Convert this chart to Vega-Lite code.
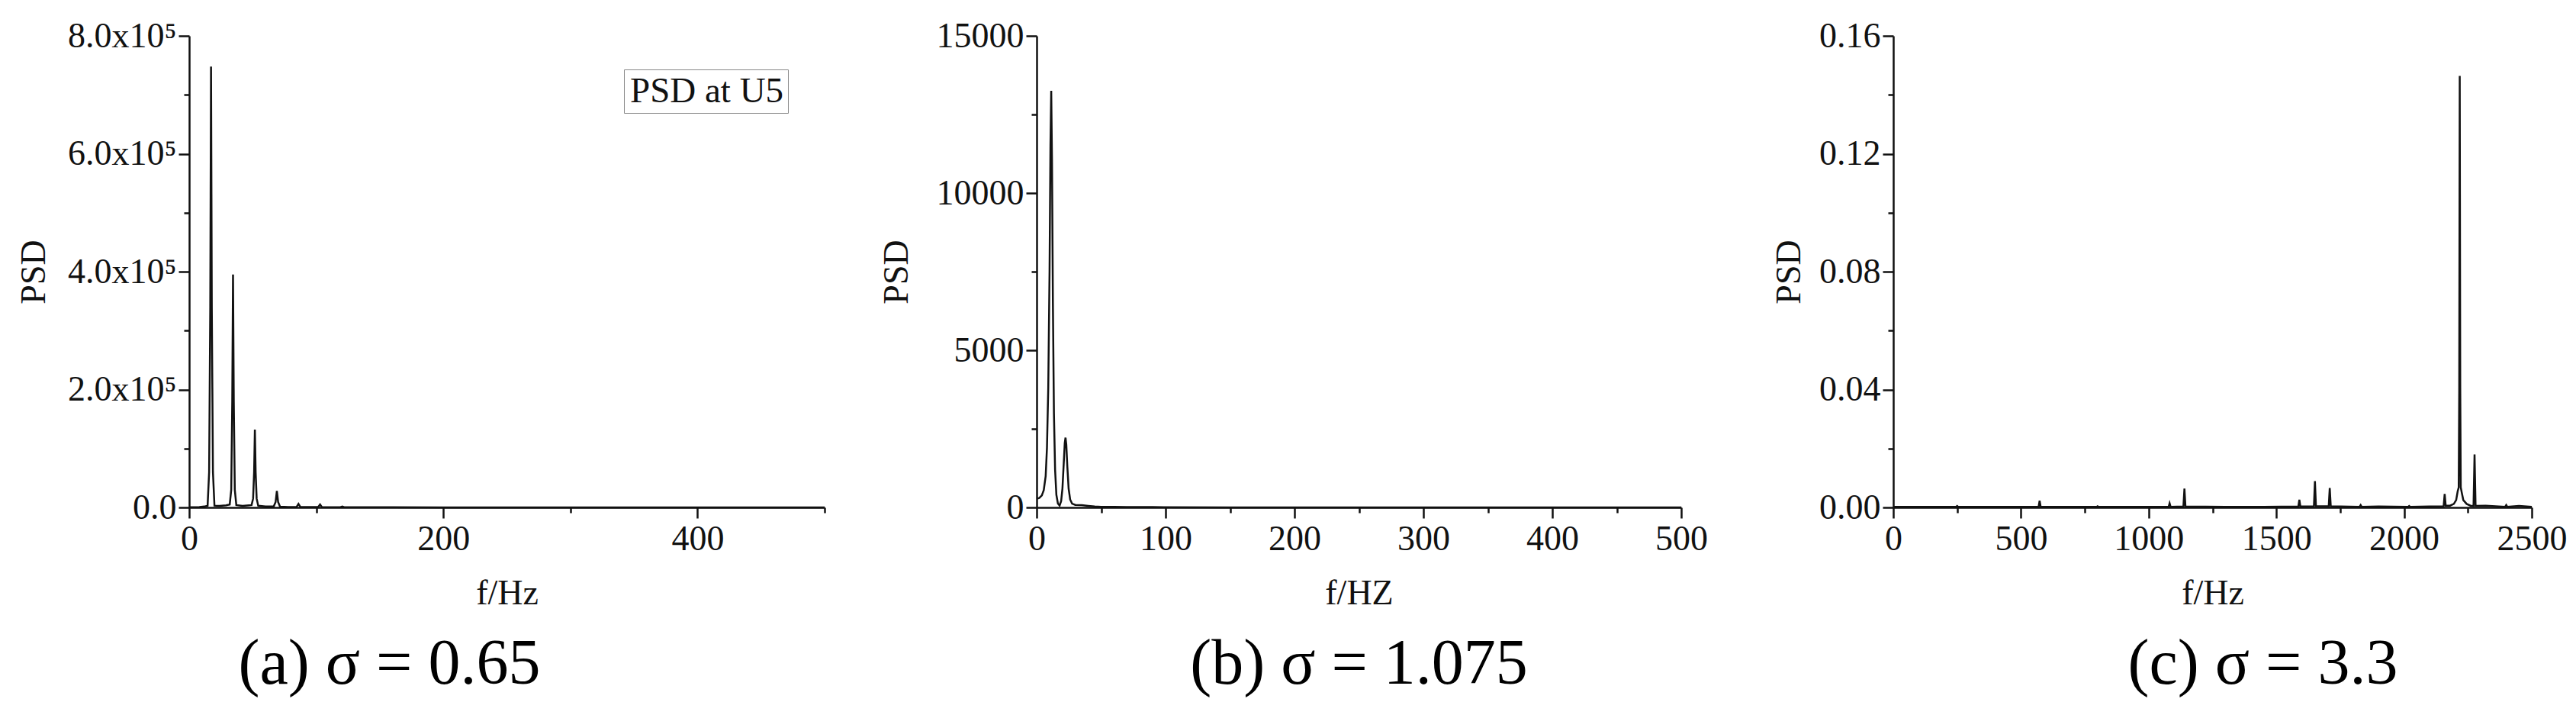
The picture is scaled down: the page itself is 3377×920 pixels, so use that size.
{
  "$schema": "https://vega.github.io/schema/vega-lite/v6.json",
  "background": "white",
  "padding": {"left": 21, "top": 24, "right": 5, "bottom": 5},
  "autosize": {"type": "pad"},
  "spacing": 278,
  "bounds": "flush",
  "config": {
    "font": "Liberation Serif",
    "view": {"stroke": null},
    "axis": {
      "domainColor": "#111", "domainWidth": 2.5, "tickColor": "#111", "tickWidth": 2.5,
      "labelFont": "Liberation Serif", "labelFontSize": 46, "labelColor": "#111",
      "titleFont": "Liberation Serif", "titleFontSize": 46, "titleFontWeight": "normal", "titleColor": "#111",
      "grid": false, "labelPadding": 5, "labelFlush": false, "labelOverlap": false
    },
    "title": {"font": "Liberation Serif", "fontSize": 84, "fontWeight": "normal", "color": "#000", "orient": "bottom", "anchor": "middle"},
    "line": {"color": "#111", "strokeWidth": 2.5}
  },
  "datasets": {
    "a": [
      {"series": "PSD at U5", "f": 0, "psd": 300},
      {"series": "PSD at U5", "f": 8, "psd": 600},
      {"series": "PSD at U5", "f": 12, "psd": 1500},
      {"series": "PSD at U5", "f": 14.5, "psd": 3000},
      {"series": "PSD at U5", "f": 15.7, "psd": 60000},
      {"series": "PSD at U5", "f": 16.6, "psd": 340000},
      {"series": "PSD at U5", "f": 17.2, "psd": 748000},
      {"series": "PSD at U5", "f": 17.8, "psd": 340000},
      {"series": "PSD at U5", "f": 18.7, "psd": 60000},
      {"series": "PSD at U5", "f": 19.9, "psd": 3000},
      {"series": "PSD at U5", "f": 24, "psd": 2500},
      {"series": "PSD at U5", "f": 29, "psd": 3500},
      {"series": "PSD at U5", "f": 31.9, "psd": 5000},
      {"series": "PSD at U5", "f": 33.1, "psd": 30000},
      {"series": "PSD at U5", "f": 33.9, "psd": 180000},
      {"series": "PSD at U5", "f": 34.5, "psd": 395000},
      {"series": "PSD at U5", "f": 35.1, "psd": 180000},
      {"series": "PSD at U5", "f": 35.9, "psd": 30000},
      {"series": "PSD at U5", "f": 37.1, "psd": 4000},
      {"series": "PSD at U5", "f": 42, "psd": 2500},
      {"series": "PSD at U5", "f": 47, "psd": 3500},
      {"series": "PSD at U5", "f": 49.1, "psd": 4000},
      {"series": "PSD at U5", "f": 50.3, "psd": 15000},
      {"series": "PSD at U5", "f": 51.1, "psd": 60000},
      {"series": "PSD at U5", "f": 51.7, "psd": 132000},
      {"series": "PSD at U5", "f": 52.3, "psd": 60000},
      {"series": "PSD at U5", "f": 53.1, "psd": 15000},
      {"series": "PSD at U5", "f": 54.3, "psd": 3000},
      {"series": "PSD at U5", "f": 60, "psd": 1500},
      {"series": "PSD at U5", "f": 66.5, "psd": 1500},
      {"series": "PSD at U5", "f": 68, "psd": 9000},
      {"series": "PSD at U5", "f": 69, "psd": 28000},
      {"series": "PSD at U5", "f": 70, "psd": 9000},
      {"series": "PSD at U5", "f": 71.5, "psd": 1200},
      {"series": "PSD at U5", "f": 78, "psd": 800},
      {"series": "PSD at U5", "f": 84.5, "psd": 900},
      {"series": "PSD at U5", "f": 86, "psd": 6000},
      {"series": "PSD at U5", "f": 87.5, "psd": 800},
      {"series": "PSD at U5", "f": 95, "psd": 600},
      {"series": "PSD at U5", "f": 101.5, "psd": 600},
      {"series": "PSD at U5", "f": 103, "psd": 5000},
      {"series": "PSD at U5", "f": 104.5, "psd": 500},
      {"series": "PSD at U5", "f": 112, "psd": 300},
      {"series": "PSD at U5", "f": 119, "psd": 300},
      {"series": "PSD at U5", "f": 120.5, "psd": 1500},
      {"series": "PSD at U5", "f": 122, "psd": 300},
      {"series": "PSD at U5", "f": 140, "psd": 200},
      {"series": "PSD at U5", "f": 160, "psd": 300},
      {"series": "PSD at U5", "f": 200, "psd": 150},
      {"series": "PSD at U5", "f": 250, "psd": 150},
      {"series": "PSD at U5", "f": 300, "psd": 150},
      {"series": "PSD at U5", "f": 350, "psd": 150},
      {"series": "PSD at U5", "f": 400, "psd": 150},
      {"series": "PSD at U5", "f": 450, "psd": 150},
      {"series": "PSD at U5", "f": 500, "psd": 150}
    ],
    "b": [
      {"f": 0, "psd": 280}, {"f": 2, "psd": 300}, {"f": 4, "psd": 380}, {"f": 5.5, "psd": 550},
      {"f": 7, "psd": 1000}, {"f": 8, "psd": 1900}, {"f": 9, "psd": 3800}, {"f": 10, "psd": 7500},
      {"f": 10.7, "psd": 11500}, {"f": 11.3, "psd": 13250}, {"f": 11.9, "psd": 11000}, {"f": 12.6, "psd": 6500},
      {"f": 13.4, "psd": 3000}, {"f": 14.3, "psd": 1200}, {"f": 15.3, "psd": 400}, {"f": 16.5, "psd": 120},
      {"f": 17.8, "psd": 60}, {"f": 19, "psd": 200}, {"f": 20, "psd": 600}, {"f": 21, "psd": 1400},
      {"f": 21.8, "psd": 2050}, {"f": 22.4, "psd": 2220}, {"f": 23, "psd": 2000}, {"f": 23.8, "psd": 1300},
      {"f": 24.8, "psd": 600}, {"f": 26, "psd": 250}, {"f": 27.5, "psd": 120}, {"f": 30, "psd": 80},
      {"f": 35, "psd": 70}, {"f": 40, "psd": 50}, {"f": 45, "psd": 30}, {"f": 50, "psd": 20},
      {"f": 60, "psd": 20}, {"f": 70, "psd": 15}, {"f": 80, "psd": 15}, {"f": 90, "psd": 10},
      {"f": 100, "psd": 5}, {"f": 150, "psd": 3}, {"f": 200, "psd": 2}, {"f": 300, "psd": 1},
      {"f": 400, "psd": 1}, {"f": 500, "psd": 1}
    ],
    "c": [
      {"f": 0, "psd": 0.0002}, {"f": 100, "psd": 0.0002}, {"f": 246, "psd": 0.0002}, {"f": 250, "psd": 0.0005},
      {"f": 254, "psd": 0.0002}, {"f": 400, "psd": 0.0002}, {"f": 569, "psd": 0.0002}, {"f": 573, "psd": 0.0023},
      {"f": 577, "psd": 0.0002}, {"f": 700, "psd": 0.0002}, {"f": 796, "psd": 0.0002}, {"f": 800, "psd": 0.0004},
      {"f": 804, "psd": 0.0002}, {"f": 950, "psd": 0.0002}, {"f": 1078, "psd": 0.0002}, {"f": 1082, "psd": 0.0014},
      {"f": 1086, "psd": 0.0002}, {"f": 1136, "psd": 0.0003}, {"f": 1140, "psd": 0.0064}, {"f": 1144, "psd": 0.0003},
      {"f": 1300, "psd": 0.0002}, {"f": 1450, "psd": 0.0002}, {"f": 1586, "psd": 0.0003}, {"f": 1590, "psd": 0.0026},
      {"f": 1594, "psd": 0.0003}, {"f": 1647, "psd": 0.0004}, {"f": 1651, "psd": 0.0089}, {"f": 1655, "psd": 0.0004},
      {"f": 1705, "psd": 0.0004}, {"f": 1709, "psd": 0.0066}, {"f": 1713, "psd": 0.0004}, {"f": 1826, "psd": 0.0002},
      {"f": 1830, "psd": 0.0008}, {"f": 1834, "psd": 0.0002}, {"f": 1900, "psd": 0.0003}, {"f": 2016, "psd": 0.0002},
      {"f": 2020, "psd": 0.0005}, {"f": 2024, "psd": 0.0002}, {"f": 2100, "psd": 0.0003}, {"f": 2155, "psd": 0.0004},
      {"f": 2159, "psd": 0.0046}, {"f": 2163, "psd": 0.0006}, {"f": 2180, "psd": 0.0006}, {"f": 2195, "psd": 0.0012},
      {"f": 2204, "psd": 0.0025}, {"f": 2210, "psd": 0.0055}, {"f": 2214, "psd": 0.0068}, {"f": 2216, "psd": 0.04},
      {"f": 2218, "psd": 0.1464}, {"f": 2220, "psd": 0.04}, {"f": 2222, "psd": 0.0068}, {"f": 2226, "psd": 0.005},
      {"f": 2232, "psd": 0.0025}, {"f": 2245, "psd": 0.0012}, {"f": 2260, "psd": 0.0006}, {"f": 2272, "psd": 0.0005},
      {"f": 2276, "psd": 0.018}, {"f": 2280, "psd": 0.0005}, {"f": 2320, "psd": 0.0006}, {"f": 2396, "psd": 0.0002},
      {"f": 2400, "psd": 0.0008}, {"f": 2404, "psd": 0.0002}, {"f": 2450, "psd": 0.0005}, {"f": 2500, "psd": 0.0002}
    ]
  },
  "hconcat": [
    {
      "width": 833, "height": 618,
      "title": {"text": "(a) σ = 0.65", "dx": -154, "offset": 30},
      "data": {"name": "a"},
      "mark": {"type": "line", "strokeWidth": 2.5},
      "encoding": {
        "x": {
          "field": "f", "type": "quantitative",
          "scale": {"domain": [0, 500], "nice": false},
          "axis": {
            "title": "f/Hz", "titlePadding": 26,
            "values": [0, 100, 200, 300, 400, 500],
            "labelExpr": "datum.value % 200 === 0 ? datum.label : ''",
            "tickSize": {"condition": {"test": "datum.value % 200 === 0", "value": 14}, "value": 7}
          }
        },
        "y": {
          "field": "psd", "type": "quantitative",
          "scale": {"domain": [0, 800000], "nice": false},
          "axis": {
            "title": "PSD", "titlePadding": 20, "labelPadding": 3,
            "values": [0, 100000, 200000, 300000, 400000, 500000, 600000, 700000, 800000],
            "labelExpr": "datum.value === 0 ? '0.0' : (datum.value % 200000 === 0 ? format(datum.value / 100000, '.1f') + 'x10⁵' : '')",
            "tickSize": {"condition": {"test": "datum.value % 200000 === 0", "value": 14}, "value": 7}
          }
        },
        "color": {
          "field": "series", "type": "nominal",
          "scale": {"range": ["#111"]},
          "legend": {
            "title": null, "orient": "none", "legendX": 570, "legendY": 44,
            "strokeColor": "#888", "padding": 5,
            "symbolSize": 0, "symbolStrokeWidth": 0, "symbolType": "stroke", "symbolOpacity": 0,
            "labelFont": "Liberation Serif", "labelFontSize": 47, "labelColor": "#111",
            "labelOffset": -44, "labelLimit": 400
          }
        }
      }
    },
    {
      "width": 845, "height": 618,
      "title": {"text": "(b) σ = 1.075", "dx": 0, "offset": 30},
      "data": {"name": "b"},
      "mark": {"type": "line", "strokeWidth": 2.5},
      "encoding": {
        "x": {
          "field": "f", "type": "quantitative",
          "scale": {"domain": [0, 500], "nice": false},
          "axis": {
            "title": "f/HZ", "titlePadding": 26,
            "values": [0, 50, 100, 150, 200, 250, 300, 350, 400, 450, 500],
            "labelExpr": "datum.value % 100 === 0 ? format(datum.value, 'd') : ''",
            "tickSize": {"condition": {"test": "datum.value % 100 === 0", "value": 14}, "value": 7}
          }
        },
        "y": {
          "field": "psd", "type": "quantitative",
          "scale": {"domain": [0, 15000], "nice": false},
          "axis": {
            "title": "PSD", "titlePadding": 28, "labelPadding": 3,
            "values": [0, 2500, 5000, 7500, 10000, 12500, 15000],
            "labelExpr": "datum.value % 5000 === 0 ? format(datum.value, 'd') : ''",
            "tickSize": {"condition": {"test": "datum.value % 5000 === 0", "value": 14}, "value": 7}
          }
        }
      }
    },
    {
      "width": 837, "height": 618,
      "title": {"text": "(c) σ = 3.3", "dx": 66, "offset": 30},
      "data": {"name": "c"},
      "mark": {"type": "line", "strokeWidth": 2.5},
      "encoding": {
        "x": {
          "field": "f", "type": "quantitative",
          "scale": {"domain": [0, 2500], "nice": false},
          "axis": {
            "title": "f/Hz", "titlePadding": 26,
            "values": [0, 250, 500, 750, 1000, 1250, 1500, 1750, 2000, 2250, 2500],
            "labelExpr": "datum.value % 500 === 0 ? format(datum.value, 'd') : ''",
            "tickSize": {"condition": {"test": "datum.value % 500 === 0", "value": 14}, "value": 7}
          }
        },
        "y": {
          "field": "psd", "type": "quantitative",
          "scale": {"domain": [0, 0.16], "nice": false},
          "axis": {
            "title": "PSD", "titlePadding": 15, "labelPadding": 3,
            "values": [0, 0.02, 0.04, 0.06, 0.08, 0.1, 0.12, 0.14, 0.16],
            "labelExpr": "round(datum.value * 100) % 4 === 0 ? format(datum.value, '.2f') : ''",
            "tickSize": {"condition": {"test": "round(datum.value * 100) % 4 === 0", "value": 14}, "value": 7}
          }
        }
      }
    }
  ]
}
